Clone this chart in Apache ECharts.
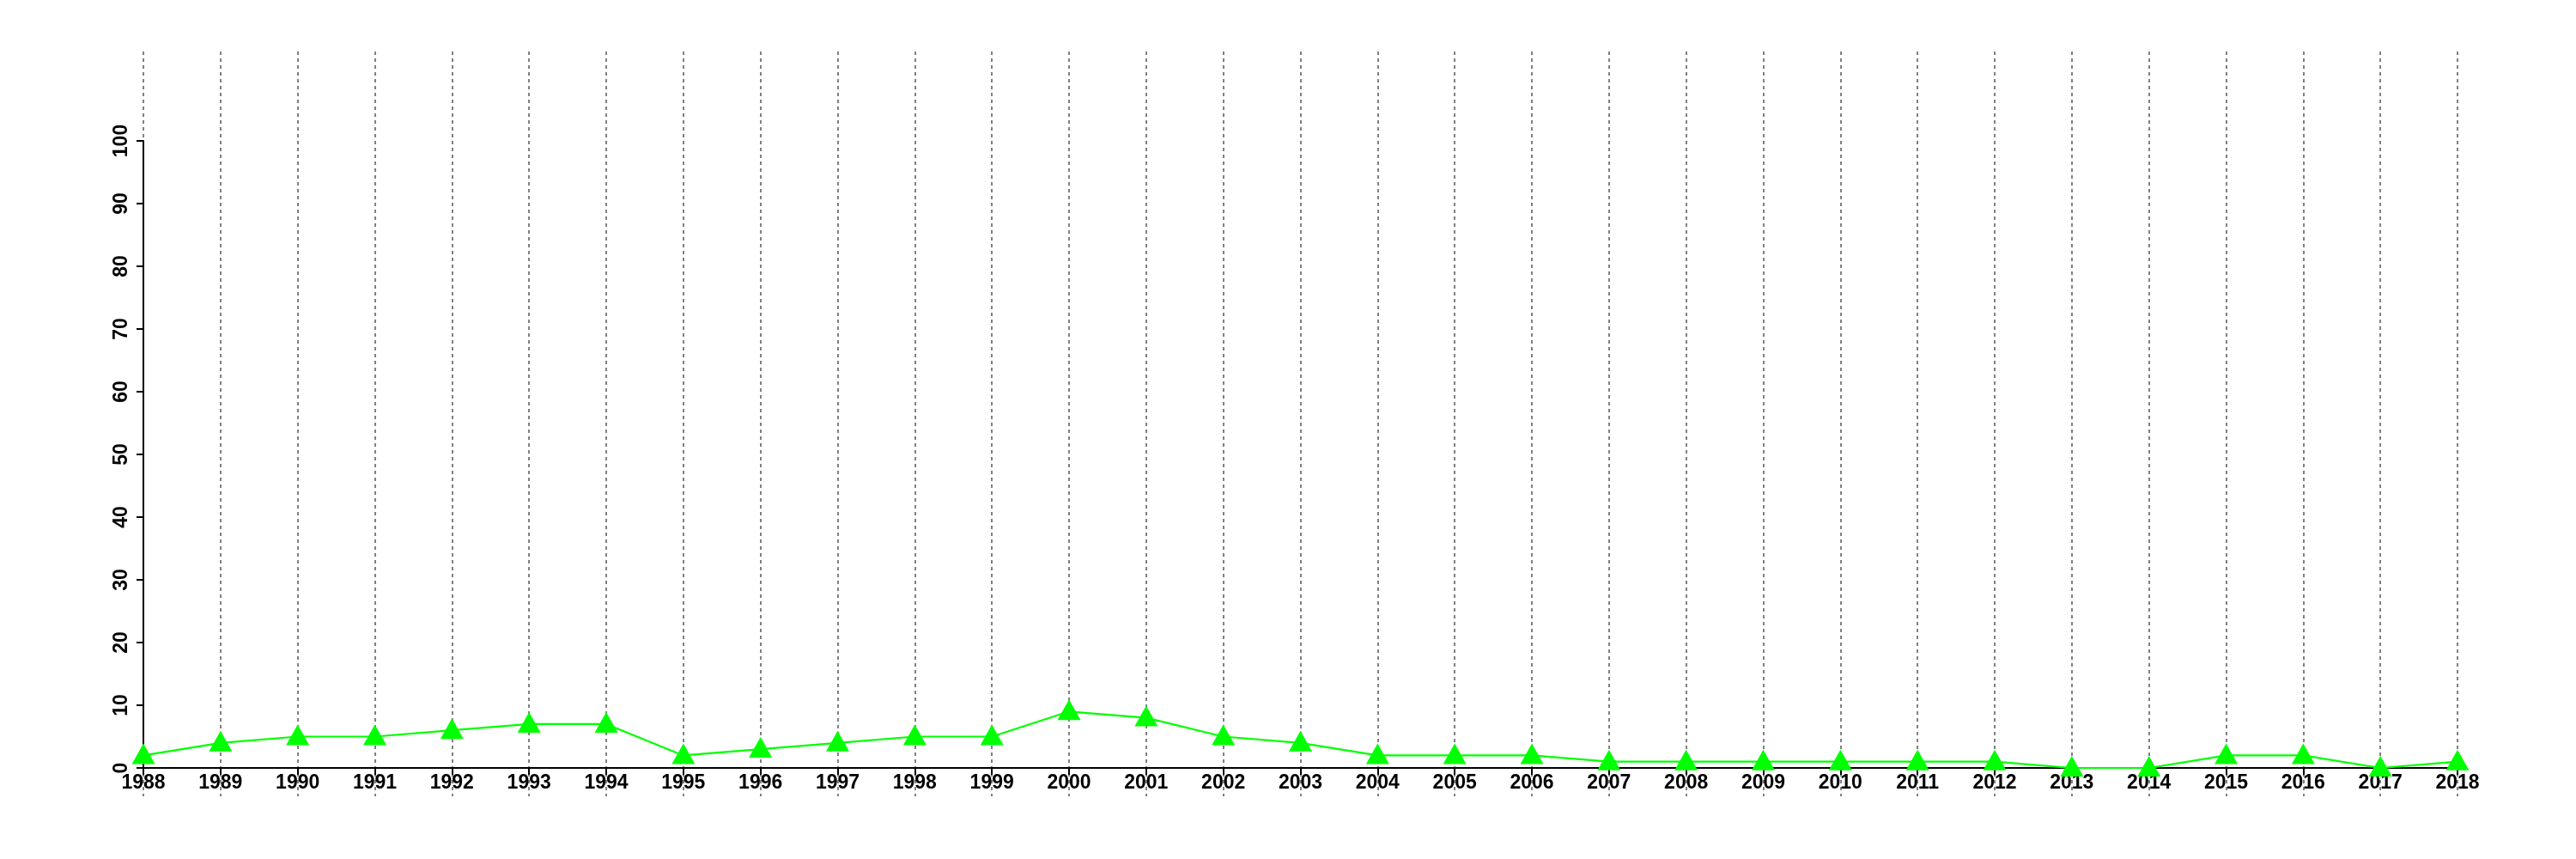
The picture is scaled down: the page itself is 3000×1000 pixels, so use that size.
<!DOCTYPE html>
<html>
<head>
<meta charset="utf-8">
<script src="https://cdn.jsdelivr.net/npm/echarts@6/dist/echarts.min.js"></script>
<style>html,body{margin:0;padding:0;background:#fff}#c{width:3000px;height:1000px}</style>
</head>
<body>
<div id="c"></div>
<script>
var years = ['1988','1989','1990','1991','1992','1993','1994','1995','1996','1997','1998','1999','2000','2001','2002','2003','2004','2005','2006','2007','2008','2009','2010','2011','2012','2013','2014','2015','2016','2017','2018'];
var values = [2,4,5,5,6,7,7,2,3,4,5,5,9,8,5,4,2,2,2,1,1,1,1,1,1,0,0,2,2,0,1];
var yTicks = {min:0, max:100, interval:10};

var chart = echarts.init(document.getElementById('c'), null, {renderer:'canvas'});
var font = 'Liberation Sans, Arial, Helvetica, sans-serif';
chart.setOption({
  animation:false,
  backgroundColor:'#ffffff',
  grid:[
    {left:167, right:138, top:164, bottom:106, containLabel:false},
    {left:167, right:138, top:60, bottom:73, containLabel:false}
  ],
  xAxis:[
    {type:'category', gridIndex:0, data:years, boundaryGap:false,
     axisLine:{show:true, onZero:false, lineStyle:{color:'#000', width:2}},
     axisTick:{show:true, length:8, interval:0, lineStyle:{color:'#000', width:2}},
     axisLabel:{show:true, interval:0, margin:6, color:'#000', fontSize:23, fontWeight:'bold', fontFamily:font},
     splitLine:{show:false}, z:3},
    {type:'category', gridIndex:1, data:years, boundaryGap:false,
     axisLine:{show:false}, axisTick:{show:false}, axisLabel:{show:false},
     splitLine:{show:true, interval:0, lineStyle:{color:'#808080', width:2, type:[4,4]}}}
  ],
  yAxis:[
    {type:'value', gridIndex:0, min:yTicks.min, max:yTicks.max, interval:yTicks.interval,
     axisLine:{show:true, lineStyle:{color:'#000', width:2}},
     axisTick:{show:true, length:8, lineStyle:{color:'#000', width:2}},
     axisLabel:{show:true, rotate:90, margin:14, color:'#000', fontSize:23, fontWeight:'bold', fontFamily:font},
     splitLine:{show:false}},
    {type:'value', gridIndex:1, min:0, max:1, show:false}
  ],
  series:[
    {type:'line', xAxisIndex:0, yAxisIndex:0, data:values,
     symbol:'triangle', symbolSize:[27,24], symbolOffset:[0,-2], showAllSymbol:true,
     itemStyle:{color:'#00ff00'},
     lineStyle:{color:'#00ff00', width:2.2}, z:5}
  ]
});
</script>
</body>
</html>
